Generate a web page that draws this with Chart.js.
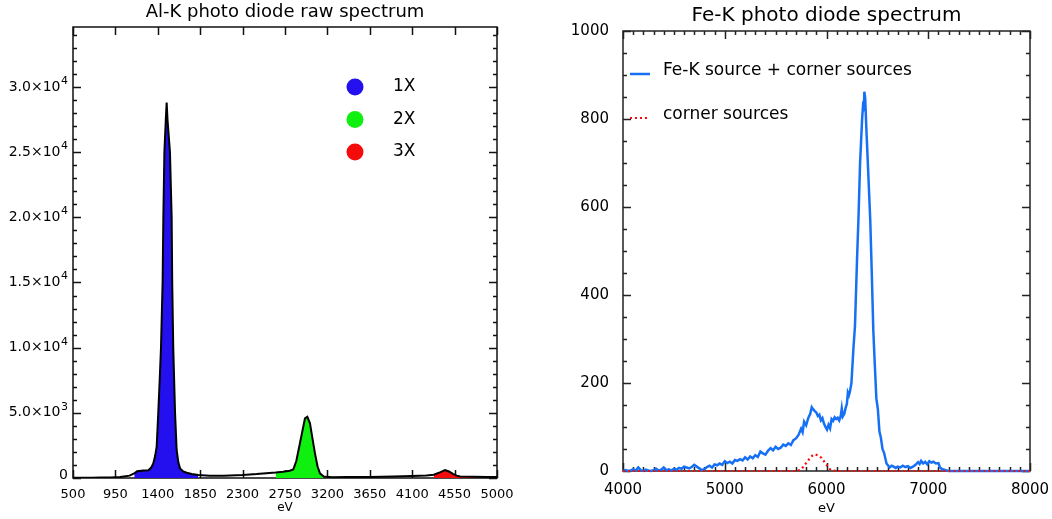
<!DOCTYPE html>
<html>
<head>
<meta charset="utf-8">
<script src="https://cdn.jsdelivr.net/npm/chart.js@4.4.0/dist/chart.umd.min.js"></script>
<style>
  html, body { margin: 0; padding: 0; background: #fff; }
  .panel { position: absolute; top: 0; height: 519px; }
  #alPanel { left: 0; width: 520px; }
  #fePanel { left: 530px; width: 522px; }
</style>
</head>
<body>
<div id="alPanel" class="panel"><canvas id="alChart" width="520" height="519"></canvas></div>
<div id="fePanel" class="panel"><canvas id="feChart" width="522" height="519"></canvas></div>
<script>
// ---- Al-K raw spectrum (left) ----
const alEnergy = [500, 600, 700, 800, 900, 1000, 1100, 1150, 1180, 1250, 1300, 1330, 1352, 1372, 1388,
  1405, 1420, 1434, 1451, 1459, 1470, 1485, 1494, 1503, 1529, 1547, 1553, 1564, 1583, 1600, 1618,
  1636, 1670, 1707, 1760, 1830, 1950, 2100, 2300, 2450, 2550, 2650, 2729, 2800, 2838, 2870, 2909,
  2940, 2962, 2987, 3015, 3040, 3068, 3095, 3121, 3160, 3250, 3400, 3650, 3900, 4100, 4250, 4330,
  4400, 4448, 4490, 4537, 4572, 4608, 4750, 4900, 5000];
const alCounts = [20, 20, 25, 30, 40, 80, 180, 350, 520, 570, 600, 800, 1120, 1700, 2400,
  5000, 7500, 10000, 15000, 20000, 25000, 27500, 28800, 27500, 25000, 20000, 15000, 10000, 5000, 2150, 1200,
  740, 500, 400, 300, 230, 180, 180, 230, 300, 370, 420, 480, 560, 660, 1300, 2680,
  3800, 4570, 4700, 4190, 3100, 1890, 900, 360, 120, 60, 70, 80, 110, 150, 200, 250,
  450, 610, 500, 300, 180, 110, 90, 80, 80];
const alOrderLabels = ['1X', '2X', '3X'];
const alOrderColors = ['rgb(36,16,238)', 'rgb(16,240,16)', 'rgb(244,12,12)'];
const alOrderRanges = [[1150, 1830], [2650, 3160], [4330, 4750]];
const alXTicks = [500, 950, 1400, 1850, 2300, 2750, 3200, 3650, 4100, 4550, 5000];
const alYTicks = [0, 5000, 10000, 15000, 20000, 25000, 30000];
const alYLabels = ['0', '5.0×10³', '1.0×10⁴', '1.5×10⁴', '2.0×10⁴', '2.5×10⁴', '3.0×10⁴'];

// ---- Fe-K spectrum (right) ----
const feEnergy = [
  4000, 4025, 4050, 4075, 4100, 4125, 4150, 4175, 4200, 4225, 4250, 4275, 4300, 4325, 4350, 4375,
  4400, 4425, 4450, 4475, 4500, 4525, 4550, 4575, 4600, 4625, 4650, 4675, 4700, 4725, 4750, 4775,
  4800, 4825, 4850, 4875, 4900, 4925, 4950, 4975, 5000, 5025, 5050, 5075, 5100, 5125, 5150, 5175,
  5200, 5225, 5250, 5275, 5300, 5325, 5350, 5375, 5400, 5425, 5450, 5475, 5500, 5525, 5550, 5575,
  5600, 5625, 5650, 5675, 5700, 5725, 5750,
  5765, 5780, 5800, 5820, 5840, 5855, 5870, 5885, 5900, 5915, 5930, 5945, 5960, 5975, 5990, 6005,
  6020, 6035, 6050, 6065, 6080, 6095, 6110, 6125, 6140, 6150, 6160, 6175, 6190, 6200, 6210, 6220,
  6230, 6245,
  6265, 6280, 6300, 6315, 6330, 6350, 6362, 6366, 6372, 6380, 6395, 6410, 6430, 6445, 6460, 6475,
  6490, 6505, 6520, 6535, 6550, 6565, 6590,
  6620, 6640, 6660, 6680, 6700, 6725, 6750, 6775, 6800, 6825, 6850, 6875, 6900, 6915, 6930, 6950,
  6970, 6990, 7010, 7030, 7050, 7075, 7100, 7115, 7140, 7170, 7200, 7400, 7600, 7800, 8000];
const feCounts = [
  0, 2, 0, 1, 4, 1, 8, 2, 0, 3, 1, 0, 2, 5, 1, 3,
  8, 2, 4, 1, 5, 3, 7, 5, 10, 8, 6, 9, 14, 10, 6, 2,
  4, 9, 12, 8, 15, 13, 17, 14, 22, 18, 21, 17, 25, 23, 27, 24,
  31, 26, 33, 29, 36, 32, 44, 40, 37, 46, 52, 47, 55, 50, 53, 60,
  57, 63, 59, 70, 74, 82, 96,
  88, 112, 104, 120, 130, 145, 140, 136, 133, 125, 128, 115, 120, 108, 100, 94,
  105, 97, 118, 114, 122, 118, 121, 115, 125, 142, 124, 130, 145, 152, 178, 172,
  180, 200,
  280, 330, 480, 580, 700, 800, 840, 818, 862, 848, 760, 680, 570, 450, 320, 240,
  165, 140, 90, 75, 50, 42, 17,
  8, 12, 10, 7, 10, 8, 12, 9, 11, 7, 10, 14, 20, 16, 23, 17,
  21, 15, 22, 19, 21, 17, 18, 8, 4, 2, 0, 0, 0, 0, 0];
const cornerEnergy = [4000, 5700, 5750, 5800, 5850, 5880, 5910, 5950, 6000, 6040, 6100, 8000];
const cornerCounts = [0, 0, 3, 18, 33, 38, 36, 30, 14, 2, 0, 0];
const feSeriesLabels = ['Fe-K source + corner sources', 'corner sources'];
const feXTicks = [4000, 5000, 6000, 7000, 8000];
const feYTicks = [0, 200, 400, 600, 800, 1000];

const FONT = "'DejaVu Sans', sans-serif";
Chart.defaults.font.family = FONT;
Chart.defaults.color = '#000';

function points(xs, ys) {
  return xs.map((x, i) => ({ x: x, y: ys[i] }));
}

// box frame with inward major/minor ticks on all four sides
const idlFrame = {
  id: 'idlFrame',
  beforeDatasetsDraw(chart, args, opts) {
    const { ctx, chartArea: a } = chart;
    const xs = chart.scales.x, ys = chart.scales.y;
    const steps = (s, step) => {
      const out = [];
      if (!step) return out;
      for (let v = s.min; v <= s.max + 1e-9; v += step) out.push(v);
      return out;
    };
    ctx.save();
    ctx.strokeStyle = opts.color;
    ctx.lineWidth = opts.width;
    ctx.beginPath();
    const xMarks = (vals, len) => vals.forEach(v => {
      const px = Math.round(xs.getPixelForValue(v)) + 0.5;
      ctx.moveTo(px, a.bottom); ctx.lineTo(px, a.bottom - len);
      ctx.moveTo(px, a.top); ctx.lineTo(px, a.top + len);
    });
    const yMarks = (vals, len) => vals.forEach(v => {
      const py = Math.round(ys.getPixelForValue(v)) + 0.5;
      ctx.moveTo(a.left, py); ctx.lineTo(a.left + len, py);
      ctx.moveTo(a.right, py); ctx.lineTo(a.right - len, py);
    });
    xMarks(steps(xs, opts.xMinor), opts.minor);
    yMarks(steps(ys, opts.yMinor), opts.minor);
    xMarks(xs.ticks.map(t => t.value), opts.major);
    yMarks(ys.ticks.map(t => t.value), opts.major);
    ctx.stroke();
    ctx.strokeRect(a.left, a.top, a.width, a.height);
    ctx.restore();
  }
};

// y labels like 3.0×10⁴ with a properly raised exponent
const SUPERS = '⁰¹²³⁴⁵⁶⁷⁸⁹';
const powerLabels = {
  id: 'powerLabels',
  afterDraw(chart) {
    const { ctx, chartArea: a } = chart;
    const ys = chart.scales.y;
    ctx.save();
    ctx.fillStyle = '#000';
    ctx.textAlign = 'right';
    ctx.textBaseline = 'middle';
    ys.ticks.forEach(t => {
      const lab = alYLabels[alYTicks.indexOf(t.value)];
      if (lab === undefined) return;
      const y = ys.getPixelForValue(t.value);
      const k = SUPERS.indexOf(lab.slice(-1));
      let x = a.left - 5;
      let base = lab;
      if (k >= 0) {
        base = lab.slice(0, -1);
        ctx.font = '11px ' + FONT;
        ctx.fillText(String(k), x, y - 6);
        x -= ctx.measureText(String(k)).width + 0.5;
      }
      ctx.font = '14px ' + FONT;
      ctx.fillText(base, x, t.value === 0 ? y - 3 : y);
    });
    ctx.restore();
  }
};

// filled-circle key for the diffraction orders
const orderKey = {
  id: 'orderKey',
  afterDraw(chart) {
    const { ctx, chartArea: a } = chart;
    ctx.save();
    ctx.font = '17px ' + FONT;
    ctx.textBaseline = 'middle';
    alOrderLabels.forEach((lab, i) => {
      const y = a.top + 60 + i * 32.5;
      ctx.fillStyle = alOrderColors[i];
      ctx.beginPath();
      ctx.arc(a.left + 282, y, 8.5, 0, Math.PI * 2);
      ctx.fill();
      ctx.fillStyle = '#000';
      ctx.fillText(lab, a.left + 320, y);
    });
    ctx.restore();
  }
};

// line-sample key for the Fe-K panel
const seriesKey = {
  id: 'seriesKey',
  afterDraw(chart) {
    const { ctx, chartArea: a } = chart;
    const ds = chart.data.datasets;
    ctx.save();
    ctx.font = '17px ' + FONT;
    ctx.textBaseline = 'middle';
    [ds[1], ds[0]].forEach((d, i) => {
      const y = a.top + 43 + i * 44;
      ctx.strokeStyle = d.borderColor;
      ctx.lineWidth = d.borderWidth;
      ctx.setLineDash(d.borderDash || []);
      ctx.beginPath();
      ctx.moveTo(a.left + 7, y);
      ctx.lineTo(a.left + 27, y);
      ctx.stroke();
      ctx.fillStyle = '#000';
      ctx.fillText(feSeriesLabels[i], a.left + 40, y - 3);
    });
    ctx.restore();
  }
};

const alLine = points(alEnergy, alCounts);
const alFills = alOrderRanges.map((r, i) => ({
  data: alLine.filter(p => p.x >= r[0] && p.x <= r[1]),
  borderWidth: 0,
  backgroundColor: alOrderColors[i],
  fill: 'origin',
  pointRadius: 0
}));

new Chart(document.getElementById('alChart'), {
  type: 'line',
  data: {
    datasets: [{
      data: alLine,
      borderColor: '#000',
      borderWidth: 2,
      fill: false,
      pointRadius: 0,
      tension: 0
    }].concat(alFills)
  },
  options: {
    responsive: false,
    animation: false,
    layout: { padding: { left: 0, right: 23, top: 0, bottom: 0 } },
    plugins: {
      legend: { display: false },
      tooltip: { enabled: false },
      title: {
        display: true,
        text: 'Al-K photo diode raw spectrum',
        fullSize: false,
        color: '#000',
        font: { size: 18, weight: 'normal' },
        padding: { top: 2, bottom: 3.4 }
      },
      idlFrame: { color: '#111', width: 1.5, major: 8, minor: 4, xMinor: 0, yMinor: 1000 }
    },
    scales: {
      x: {
        type: 'linear',
        min: 500,
        max: 5000,
        afterBuildTicks: s => { s.ticks = alXTicks.map(v => ({ value: v })); },
        afterFit: s => { s.height = 41; },
        grid: { display: false },
        border: { display: false },
        ticks: { autoSkip: false, maxRotation: 0, padding: 1, font: { size: 13 }, callback: v => String(v) },
        title: { display: true, text: 'eV', font: { size: 12 }, padding: { top: 0, bottom: 4 } }
      },
      y: {
        type: 'linear',
        min: 0,
        max: 34600,
        afterBuildTicks: s => { s.ticks = alYTicks.map(v => ({ value: v })); },
        afterFit: s => { s.width = 73; },
        grid: { display: false },
        border: { display: false },
        ticks: { display: false }
      }
    }
  },
  plugins: [idlFrame, powerLabels, orderKey]
});

new Chart(document.getElementById('feChart'), {
  type: 'line',
  data: {
    datasets: [{
      data: points(cornerEnergy, cornerCounts),
      borderColor: 'rgb(250,10,10)',
      borderWidth: 2.2,
      borderDash: [2, 3],
      fill: false,
      pointRadius: 0,
      tension: 0,
      clip: 4
    }, {
      data: points(feEnergy, feCounts),
      borderColor: 'rgb(22,112,245)',
      borderWidth: 2.5,
      fill: false,
      pointRadius: 0,
      tension: 0,
      clip: 4
    }]
  },
  options: {
    responsive: false,
    animation: false,
    layout: { padding: { left: 0, right: 22, top: 0, bottom: 0 } },
    plugins: {
      legend: { display: false },
      tooltip: { enabled: false },
      title: {
        display: true,
        text: 'Fe-K photo diode spectrum',
        fullSize: false,
        color: '#000',
        font: { size: 20, weight: 'normal' },
        padding: { top: 4, bottom: 3 }
      },
      idlFrame: { color: '#222', width: 1.5, major: 8, minor: 4, xMinor: 100, yMinor: 50 }
    },
    scales: {
      x: {
        type: 'linear',
        min: 4000,
        max: 8000,
        afterBuildTicks: s => { s.ticks = feXTicks.map(v => ({ value: v })); },
        afterFit: s => { s.height = 48; },
        grid: { display: false },
        border: { display: false },
        ticks: { autoSkip: false, maxRotation: 0, padding: 2, font: { size: 15 }, callback: v => String(v) },
        title: { display: true, text: 'eV', font: { size: 13 }, padding: { top: 0, bottom: 3 } }
      },
      y: {
        type: 'linear',
        min: 0,
        max: 1000,
        afterBuildTicks: s => { s.ticks = feYTicks.map(v => ({ value: v })); },
        afterFit: s => { s.width = 93; },
        grid: { display: false },
        border: { display: false },
        ticks: { padding: 6, font: { size: 15 }, callback: v => String(v) }
      }
    }
  },
  plugins: [idlFrame, seriesKey]
});
</script>
</body>
</html>
